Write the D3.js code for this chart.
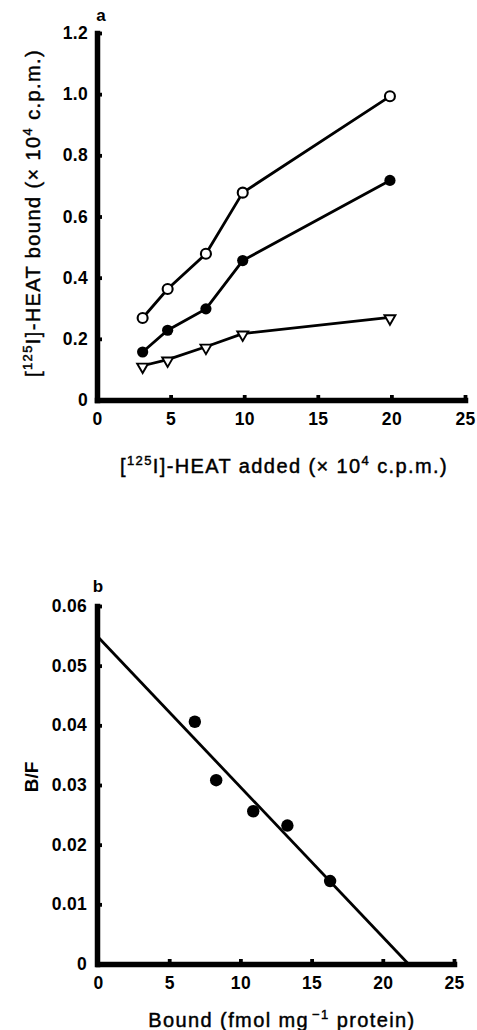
<!DOCTYPE html>
<html><head><meta charset="utf-8">
<script src="https://cdn.jsdelivr.net/npm/d3@7"></script>
<style>
body{margin:0;background:#fff;}
svg{display:block;}
text{font-family:"Liberation Sans",Arial,Helvetica,sans-serif;fill:#000;}
</style></head>
<body>
<svg id="c" width="477" height="1030"></svg>
<script>
// Panel a data
const addedX = [3.1, 4.8, 7.4, 9.9, 19.9];
const openCircle = [0.268, 0.363, 0.478, 0.678, 0.993];
const filledCircle = [0.157, 0.228, 0.298, 0.456, 0.718];
const triangle = [0.112, 0.132, 0.174, 0.217, 0.27];
const aXTicks = [0, 5, 10, 15, 20, 25];
const aYTicks = [0, 0.2, 0.4, 0.6, 0.8, 1.0, 1.2];
// Panel b data
const boundX = [6.8, 8.3, 10.9, 13.3, 16.3];
const bfY = [0.0406, 0.0308, 0.0256, 0.0232, 0.0139];
const fitX = [0, 21.8];
const fitY = [0.0548, 0];
const bXTicks = [0, 5, 10, 15, 20, 25];
const bYTicks = [0, 0.01, 0.02, 0.03, 0.04, 0.05, 0.06];

const svg = d3.select("#c");

function styleAxis(g){
  g.select(".domain").attr("stroke","#000").attr("stroke-width",5.5).attr("stroke-linecap","square");
  g.selectAll(".tick line").attr("stroke","#000").attr("stroke-width",3.8);
  g.selectAll(".tick text").style("font-size","17.5px").style("font-weight","bold").attr("fill","#000")
    .style("letter-spacing","0.3px");
}
function title(sel){
  return sel.attr("font-size",20).attr("letter-spacing",1.4).attr("stroke","#000").attr("stroke-width",0.45);
}

// ---------- Panel a ----------
const ax = d3.scaleLinear().domain([0,25]).range([97,465]);
const ay = d3.scaleLinear().domain([0,1.2]).range([400,33]);

const gaX = svg.append("g").attr("transform","translate(0,400)")
  .call(d3.axisBottom(ax).tickValues(aXTicks).tickFormat(d3.format("d")).tickSizeInner(-5).tickSizeOuter(0).tickPadding(13));
styleAxis(gaX);
gaX.selectAll(".tick").filter(d=>d===0).select("line").remove();
const gaY = svg.append("g").attr("transform","translate(97,0)")
  .call(d3.axisLeft(ay).tickValues(aYTicks).tickFormat(d=>d===0?"0":d3.format(".1f")(d)).tickSizeInner(-5).tickSizeOuter(0).tickPadding(9));
styleAxis(gaY);
gaY.selectAll(".tick").filter(d=>d===0).select("line").remove();

const lineA = d3.line().x(d=>ax(d[0])).y(d=>ay(d[1]));
[openCircle, filledCircle, triangle].forEach(s=>{
  svg.append("path").datum(addedX.map((x,i)=>[x,s[i]]))
    .attr("d",lineA).attr("fill","none").attr("stroke","#000").attr("stroke-width",2.8);
});
svg.selectAll(".oc").data(addedX.map((x,i)=>[x,openCircle[i]])).enter().append("circle")
  .attr("cx",d=>ax(d[0])).attr("cy",d=>ay(d[1])).attr("r",5)
  .attr("fill","#fff").attr("stroke","#000").attr("stroke-width",2.1);
svg.selectAll(".fc").data(addedX.map((x,i)=>[x,filledCircle[i]])).enter().append("circle")
  .attr("cx",d=>ax(d[0])).attr("cy",d=>ay(d[1])).attr("r",5.6).attr("fill","#000");
const tri = d3.symbol().type(d3.symbolTriangle).size(52);
svg.selectAll(".tr").data(addedX.map((x,i)=>[x,triangle[i]])).enter().append("path")
  .attr("d",tri).attr("transform",d=>`translate(${ax(d[0])},${ay(d[1])+1}) rotate(180)`)
  .attr("fill","#fff").attr("stroke","#000").attr("stroke-width",1.9);

svg.append("text").attr("x",101).attr("y",21).attr("text-anchor","middle")
  .style("font-size","17px").style("font-weight","bold").text("a");

const xtA = title(svg.append("text").attr("x",284).attr("y",473).attr("text-anchor","middle"));
xtA.append("tspan").text("[");
xtA.append("tspan").attr("font-size",13).attr("dy",-8).text("125");
xtA.append("tspan").attr("dy",8).text("I]-HEAT added (× 10");
xtA.append("tspan").attr("font-size",13).attr("dy",-8).text("4");
xtA.append("tspan").attr("dy",8).text(" c.p.m.)");

const ytA = title(svg.append("text").attr("transform","translate(40,213) rotate(-90)").attr("text-anchor","middle"));
ytA.append("tspan").text("[");
ytA.append("tspan").attr("font-size",13).attr("dy",-8).text("125");
ytA.append("tspan").attr("dy",8).text("I]-HEAT bound (× 10");
ytA.append("tspan").attr("font-size",13).attr("dy",-8).text("4");
ytA.append("tspan").attr("dy",8).text(" c.p.m.)");

// ---------- Panel b ----------
const bx = d3.scaleLinear().domain([0,25]).range([98,454]);
const by = d3.scaleLinear().domain([0,0.06]).range([964,606]);

const gbX = svg.append("g").attr("transform","translate(0,964)")
  .call(d3.axisBottom(bx).tickValues(bXTicks).tickFormat(d3.format("d")).tickSizeInner(-5).tickSizeOuter(0).tickPadding(13));
styleAxis(gbX);
gbX.selectAll(".tick").filter(d=>d===0).select("line").remove();
const gbY = svg.append("g").attr("transform","translate(97,0)")
  .call(d3.axisLeft(by).tickValues(bYTicks).tickFormat(d=>d===0?"0":d3.format(".2f")(d)).tickSizeInner(-5).tickSizeOuter(0).tickPadding(10));
styleAxis(gbY);
gbY.selectAll(".tick").filter(d=>d===0).select("line").remove();

svg.append("path").datum(fitX.map((x,i)=>[x,fitY[i]]))
  .attr("d",d3.line().x(d=>bx(d[0])).y(d=>by(d[1])))
  .attr("fill","none").attr("stroke","#000").attr("stroke-width",2.8);
svg.selectAll(".bp").data(boundX.map((x,i)=>[x,bfY[i]])).enter().append("circle")
  .attr("cx",d=>bx(d[0])).attr("cy",d=>by(d[1])).attr("r",6.2).attr("fill","#000");

svg.append("text").attr("x",98).attr("y",592).attr("text-anchor","middle")
  .style("font-size","17px").style("font-weight","bold").text("b");

svg.append("text").attr("transform","translate(38,777) rotate(-90)").attr("text-anchor","middle")
  .style("font-size","19px").style("font-weight","bold").text("B/F");

const xtB = title(svg.append("text").attr("x",282).attr("y",1027).attr("text-anchor","middle"));
xtB.append("tspan").text("Bound (fmol mg");
xtB.append("tspan").attr("font-size",13).attr("dy",-8).attr("dx",3).text("−1");
xtB.append("tspan").attr("dy",8).text(" protein)");
</script>
</body></html>
